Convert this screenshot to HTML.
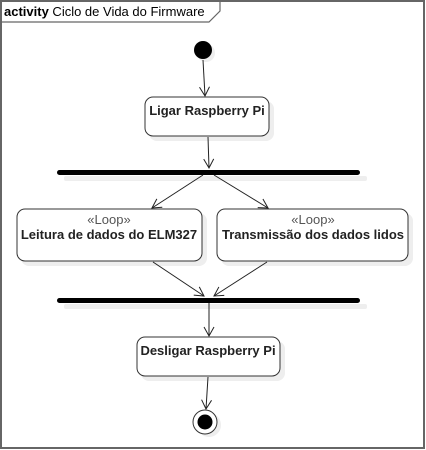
<!DOCTYPE html>
<html><head><meta charset="utf-8"><style>
html,body{margin:0;padding:0;background:#fff;}
svg{display:block;font-family:"Liberation Sans",Arial,sans-serif;}
</style></head><body>
<svg width="426" height="450" viewBox="0 0 426 450" xmlns="http://www.w3.org/2000/svg">
<defs>
<marker id="a" markerWidth="12" markerHeight="12" refX="10" refY="6" orient="auto" markerUnits="userSpaceOnUse">
<path d="M1,1 L10,6 L1,11" fill="none" stroke="#222" stroke-width="1"/>
</marker>
</defs>
<rect x="1" y="1" width="423" height="447" fill="none" stroke="#666" stroke-width="2"/>
<path d="M1,22 L209,22 L220,11 L220,1" fill="none" stroke="#666" stroke-width="1.2"/>
<text x="4" y="16" font-size="13"><tspan font-weight="bold">activity</tspan> Ciclo de Vida do Firmware</text>

<!-- shadows -->
<g fill="#eee">
<circle cx="206" cy="53" r="9"/>
<rect x="149" y="101" width="125" height="40" rx="8"/>
<rect x="64" y="176" width="303" height="5" rx="2"/>
<rect x="21" y="213" width="186" height="53" rx="8"/>
<rect x="221" y="213" width="192" height="53" rx="8"/>
<rect x="64" y="304" width="303" height="5" rx="2"/>
<rect x="141" y="341" width="144" height="40" rx="8"/>
<circle cx="209" cy="425" r="12"/>
</g>

<circle cx="203" cy="50" r="9" fill="#000"/>
<line x1="203" y1="60" x2="205" y2="96" stroke="#222" marker-end="url(#a)"/>

<rect x="145" y="97" width="124" height="39" rx="8" fill="#fff" stroke="#333" stroke-width="1"/>
<text x="207" y="115" font-size="13" font-weight="bold" text-anchor="middle" fill="#222">Ligar Raspberry Pi</text>
<line x1="208" y1="137" x2="209" y2="168" stroke="#222" marker-end="url(#a)"/>

<rect x="57" y="170" width="303" height="5" rx="2.5" fill="#000"/>
<line x1="203" y1="175" x2="152" y2="208" stroke="#222" marker-end="url(#a)"/>
<line x1="214" y1="175" x2="268" y2="208" stroke="#222" marker-end="url(#a)"/>

<rect x="17" y="209" width="185" height="52" rx="8" fill="#fff" stroke="#333"/>
<text x="109" y="224" font-size="13" text-anchor="middle" fill="#555">«Loop»</text>
<text x="109" y="239" font-size="13" font-weight="bold" text-anchor="middle" fill="#222">Leitura de dados do ELM327</text>
<rect x="217" y="209" width="191" height="52" rx="8" fill="#fff" stroke="#333"/>
<text x="313" y="224" font-size="13" text-anchor="middle" fill="#555">«Loop»</text>
<text x="313" y="239" font-size="13" font-weight="bold" text-anchor="middle" fill="#222">Transmissão dos dados lidos</text>

<line x1="153" y1="262" x2="204" y2="296" stroke="#222" marker-end="url(#a)"/>
<line x1="267" y1="262" x2="214" y2="296" stroke="#222" marker-end="url(#a)"/>
<rect x="57" y="298" width="303" height="5" rx="2.5" fill="#000"/>

<line x1="209" y1="303" x2="209" y2="336" stroke="#222" marker-end="url(#a)"/>
<rect x="137" y="337" width="143" height="39" rx="8" fill="#fff" stroke="#333"/>
<text x="208" y="355" font-size="13" font-weight="bold" text-anchor="middle" fill="#222">Desligar Raspberry Pi</text>
<line x1="208" y1="377" x2="206" y2="409" stroke="#222" marker-end="url(#a)"/>

<circle cx="205" cy="422" r="12" fill="#fff" stroke="#333"/>
<circle cx="205" cy="422" r="7.5" fill="#000"/>
</svg>
</body></html>
